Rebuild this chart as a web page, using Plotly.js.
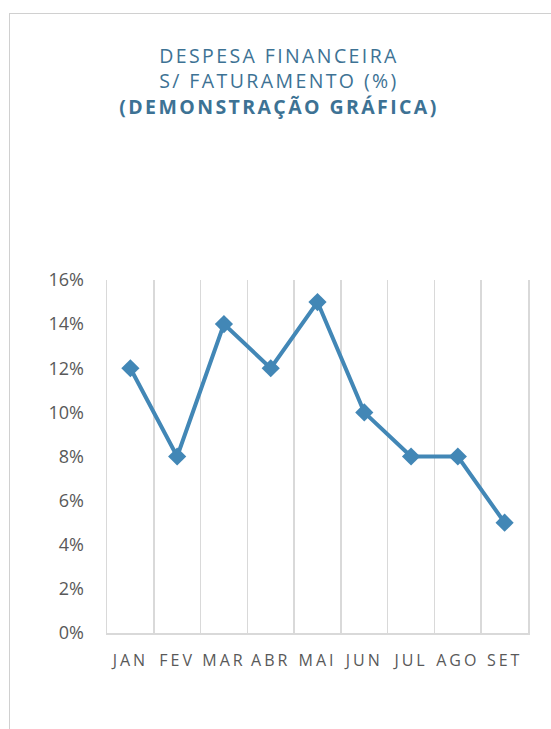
<!DOCTYPE html>
<html>
<head>
<meta charset="utf-8">
<script src="https://cdn.plot.ly/plotly-3.0.1.min.js"></script>
<style>
  html, body { margin: 0; padding: 0; background: #fff; }
  #wrap { position: relative; width: 551px; height: 729px; overflow: hidden; }
  #chart { position: absolute; left: 0; top: 0; width: 551px; height: 729px; }
  #frame { position: absolute; left: 9px; top: 13px; width: 600px; height: 800px;
           border-left: 1px solid #d0d0d0; border-top: 1px solid #d0d0d0; pointer-events: none; }
  #chart .xtick text { letter-spacing: 3px; }
  #chart .gtitle { letter-spacing: 2.4px; }
</style>
</head>
<body>
<div id="wrap">
  <div id="chart"></div>
  <div id="frame"></div>
</div>
<script>
const months = ["JAN", "FEV", "MAR", "ABR", "MAI", "JUN", "JUL", "AGO", "SET"];
const despesa = [0.12, 0.08, 0.14, 0.12, 0.15, 0.10, 0.08, 0.08, 0.05];
const yTicks = [0, 0.02, 0.04, 0.06, 0.08, 0.10, 0.12, 0.14, 0.16];

const trace = {
  x: months,
  y: despesa,
  type: "scatter",
  mode: "lines+markers",
  line: { color: "#4287b6", width: 4 },
  marker: { symbol: "diamond", size: 14, color: "#4287b6" },
  hoverinfo: "skip"
};

const layout = {
  width: 551,
  height: 729,
  margin: { l: 107, r: 23, t: 280, b: 96 },
  paper_bgcolor: "#ffffff",
  plot_bgcolor: "#ffffff",
  showlegend: false,
  font: { family: "Open Sans, sans-serif", color: "#595959" },
  title: {
    text: "DESPESA FINANCEIRA<br>S/ FATURAMENTO (%)<br><b>(DEMONSTRAÇÃO GRÁFICA)</b>",
    font: { family: "Open Sans, sans-serif", size: 19.5, color: "#3d7294" },
    x: 279 / 551, xanchor: "center", xref: "container",
    y: 1 - 63 / 729, yanchor: "top", yref: "container",
    pad: { t: 0, b: 0, l: 0, r: 0 }
  },
  xaxis: {
    type: "category",
    range: [-0.5, 8.5],
    tickson: "boundaries",
    showgrid: true,
    gridcolor: "#d9d9d9",
    gridwidth: 1.5,
    showline: true,
    linecolor: "#d9d9d9",
    linewidth: 1.5,
    ticks: "",
    tickfont: { size: 16, color: "#595959" },
    ticklabelstandoff: 12,
    fixedrange: true,
    zeroline: false
  },
  yaxis: {
    range: [0, 0.16],
    tickvals: yTicks,
    tickformat: ".0%",
    showgrid: false,
    zeroline: false,
    showline: true,
    mirror: true,
    linecolor: "#d9d9d9",
    linewidth: 1.5,
    ticks: "",
    tickfont: { size: 18, color: "#595959" },
    ticklabelstandoff: 18,
    fixedrange: true
  }
};

Plotly.newPlot("chart", [trace], layout, { displayModeBar: false, staticPlot: true });
</script>
</body>
</html>
